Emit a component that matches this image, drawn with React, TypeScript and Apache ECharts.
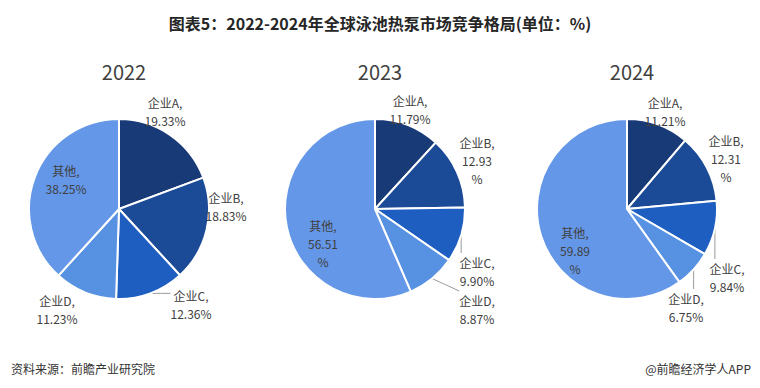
import React, { useEffect, useRef } from "react";
import * as echarts from "echarts";

const years = ["2022", "2023", "2024"];
const categories = ["企业A", "企业B", "企业C", "企业D", "其他"];
const values2022 = [19.33, 18.83, 12.36, 11.23, 38.25];
const values2023 = [11.79, 12.93, 9.9, 8.87, 56.51];
const values2024 = [11.21, 12.31, 9.84, 6.75, 59.89];
const allValues = [values2022, values2023, values2024];
// labels whose percent sign wraps onto its own line
const wrapped = [[] as string[], ["企业B", "其他"], ["企业B", "其他"]];
// labels joined to their slice by a leader line
const withLine = [["企业C"], ["企业C", "企业D"], ["企业C", "企业D"]];
const colors = ["#183a76", "#1b4a96", "#1e5ec0", "#5791e2", "#6497e7"];

// layout: pie centres and label anchors (centre x, top y) for each year
const centersX = [119, 375, 627];
const labelAnchors = [
  [[165, 93], [226, 188], [191, 286], [57, 291], [66, 161]],
  [[410, 91], [477, 133], [477, 253], [477, 291], [323, 216]],
  [[665, 93], [726, 131], [727, 259], [686, 289], [575, 223]],
];
const FONT = "'Noto Sans CJK SC', 'Noto Sans', sans-serif";

export default function App() {
  const ref = useRef<HTMLDivElement>(null);
  useEffect(() => {
    if (!ref.current) return;
    const chart = echarts.init(ref.current, undefined, { renderer: "svg" });
    const series = years.map((y, yi) => ({
      type: "pie",
      center: [centersX[yi], 209],
      radius: 90,
      startAngle: 90,
      clockwise: true,
      avoidLabelOverlap: false,
      itemStyle: { borderColor: "#ffffff", borderWidth: 2 },
      label: {
        show: true,
        position: "outside",
        color: "#404040",
        fontFamily: FONT,
        fontSize: 12,
        lineHeight: 18,
        align: "center",
        formatter: (p: any) => {
          const v = Number(p.value).toFixed(2);
          return wrapped[yi].includes(p.name)
            ? `${p.name},\n${v}\n%`
            : `${p.name},\n${v}%`;
        },
      },
      labelLine: {
        show: true,
        length: 4,
        length2: 0,
        smooth: false,
        lineStyle: { color: "#9a9a9a", width: 1 },
      },
      labelLayout: (params: any) => {
        const [cx, top] = labelAnchors[yi][params.dataIndex];
        const w = params.labelRect.width;
        const h = params.labelRect.height;
        const out: any = { x: cx, y: top, align: "center", verticalAlign: "top" };
        const pts = params.labelLinePoints;
        if (pts && withLine[yi].includes(categories[params.dataIndex])) {
          const p0 = pts[0];
          const left = cx - w / 2;
          const clamp = (v: number, a: number, b: number) => Math.max(a, Math.min(b, v));
          const end = [clamp(p0[0], left, left + w), clamp(p0[1], top, top + h)];
          const mid = [(p0[0] + end[0]) / 2, (p0[1] + end[1]) / 2];
          out.labelLinePoints = [p0, mid, end];
        }
        return out;
      },
      data: categories.map((c, i) => ({
        name: c,
        value: allValues[yi][i],
        itemStyle: { color: colors[i] },
        labelLine: { show: withLine[yi].includes(c) },
        ...(c === "其他" ? { label: { position: "inside" } } : {}),
      })),
    }));
    chart.setOption({
      animation: false,
      backgroundColor: "#ffffff",
      title: [
        {
          text: "图表5：2022-2024年全球泳池热泵市场竞争格局(单位：%)",
          left: "center",
          top: 10,
          textStyle: { fontFamily: FONT, fontSize: 16, fontWeight: "bold", color: "#262626" },
        },
        ...years.map((y, yi) => ({
          text: y,
          left: centersX[yi],
          top: 56,
          textAlign: "center",
          textStyle: { fontFamily: FONT, fontSize: 20, fontWeight: "normal", color: "#404040" },
        })),
        {
          text: "资料来源：前瞻产业研究院",
          left: 6,
          top: 357,
          textStyle: { fontFamily: FONT, fontSize: 12, fontWeight: "normal", color: "#333333" },
        },
        {
          text: "@前瞻经济学人APP",
          right: 4,
          top: 357,
          textStyle: { fontFamily: FONT, fontSize: 12, fontWeight: "normal", color: "#333333" },
        },
      ],
      series,
    });
    return () => chart.dispose();
  }, []);
  return (
    <div
      ref={ref}
      style={{ position: "fixed", left: 0, top: 0, width: 760, height: 388 }}
    />
  );
}
